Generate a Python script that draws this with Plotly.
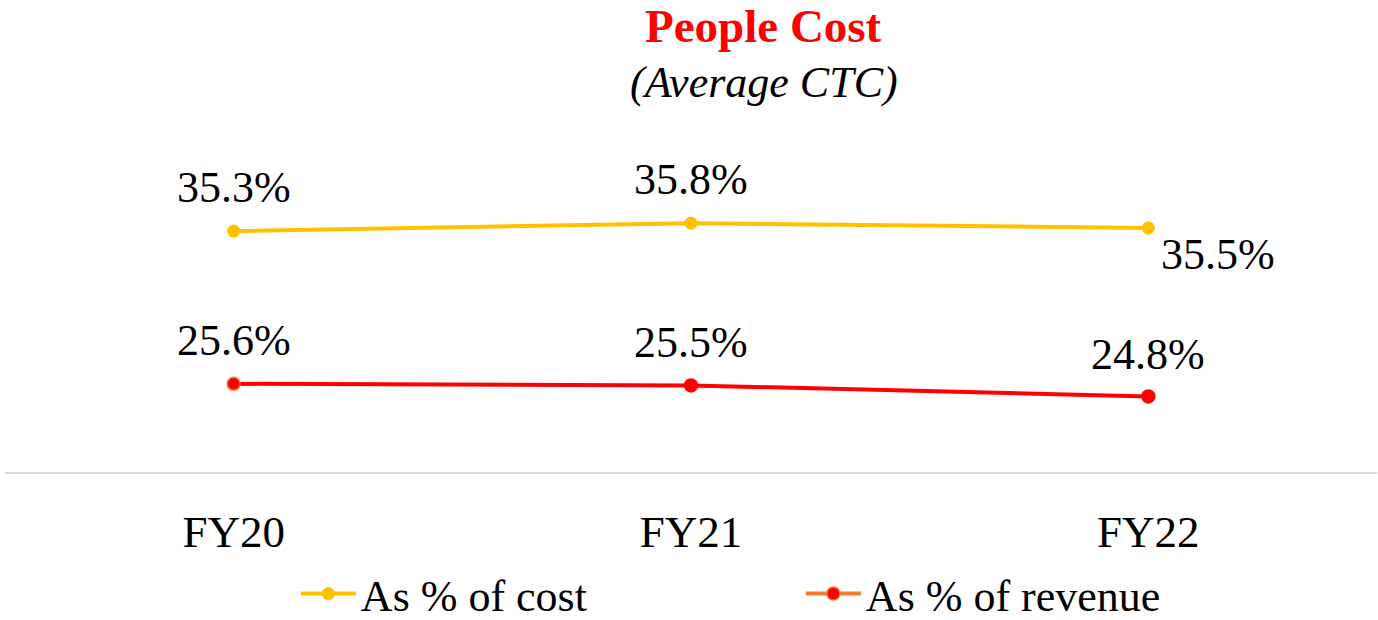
import plotly.graph_objects as go

categories = ["FY20", "FY21", "FY22"]
cost_pct = [35.3, 35.8, 35.5]
revenue_pct = [25.6, 25.5, 24.8]
series_names = ["As % of cost", "As % of revenue"]
title_main = "People Cost"
title_sub = "(Average CTC)"

FONT = "Liberation Serif"
YELLOW = "#FFC000"
RED = "#FF0000"
ORANGE = "#ED7D31"

fig = go.Figure()

fig.add_trace(go.Scatter(
    x=categories, y=cost_pct, mode="lines+markers", name=series_names[0],
    line=dict(color=YELLOW, width=4), marker=dict(color=YELLOW, size=13),
    showlegend=True,
))
fig.add_trace(go.Scatter(
    x=categories, y=revenue_pct, mode="lines+markers", name=series_names[1],
    line=dict(color=RED, width=4),
    marker=dict(color=RED, size=13, line=dict(color=[ORANGE, RED, RED], width=1.5)),
    showlegend=False,
))
# legend-only entry (orange line, red marker as in reference)
fig.add_trace(go.Scatter(
    x=[None], y=[None], mode="lines+markers", name=series_names[1],
    line=dict(color=ORANGE, width=4),
    marker=dict(color=RED, size=13, line=dict(color=ORANGE, width=1.5)),
    showlegend=True,
))

LABEL_FONT = dict(family=FONT, size=44, color="#000000")
cost_shift = [(0, 44, "center"), (0, 44, "center"), (11, -27, "left")]
rev_shift = [(0, 43, "center"), (0, 43, "center"), (0, 42, "center")]
for cat, v, (dx, dy, xa) in zip(categories, cost_pct, cost_shift):
    fig.add_annotation(x=cat, y=v, text=f"{v:.1f}%", showarrow=False,
                       xshift=dx, yshift=dy, xanchor=xa, yanchor="middle",
                       font=LABEL_FONT)
for cat, v, (dx, dy, xa) in zip(categories, revenue_pct, rev_shift):
    fig.add_annotation(x=cat, y=v, text=f"{v:.1f}%", showarrow=False,
                       xshift=dx, yshift=dy, xanchor=xa, yanchor="middle",
                       font=LABEL_FONT)

# title (two lines)
fig.add_annotation(xref="paper", yref="paper", x=0.553, y=1.415,
                   text=f"<b>{title_main}</b>", showarrow=False,
                   xanchor="center", yanchor="middle",
                   font=dict(family=FONT, size=47, color=RED))
fig.add_annotation(xref="paper", yref="paper", x=0.553, y=1.235,
                   text=f"<i>{title_sub}</i>", showarrow=False,
                   xanchor="center", yanchor="middle",
                   font=dict(family=FONT, size=44, color="#000000"))

fig.update_layout(
    width=1378, height=620,
    margin=dict(l=5, r=1, t=157, b=148),
    paper_bgcolor="white", plot_bgcolor="white",
    xaxis=dict(
        type="category", range=[-0.5, 2.5], showgrid=False, zeroline=False,
        showline=True, linecolor="#D9D9D9", linewidth=2,
        ticks="", ticklabelstandoff=19,
        tickfont=dict(family=FONT, size=45, color="#000000"),
    ),
    yaxis=dict(range=[20, 40], visible=False, showgrid=False, zeroline=False),
    legend=dict(
        orientation="h", xref="paper", x=0.212, xanchor="left",
        yref="container", y=0.042, yanchor="middle",
        font=dict(family=FONT, size=44, color="#000000"),
        itemwidth=55, entrywidth=435,
    ),
    showlegend=True,
)

fig.write_html("out.html", post_script="document.body.style.margin='0';",
               config={"displayModeBar": False})
